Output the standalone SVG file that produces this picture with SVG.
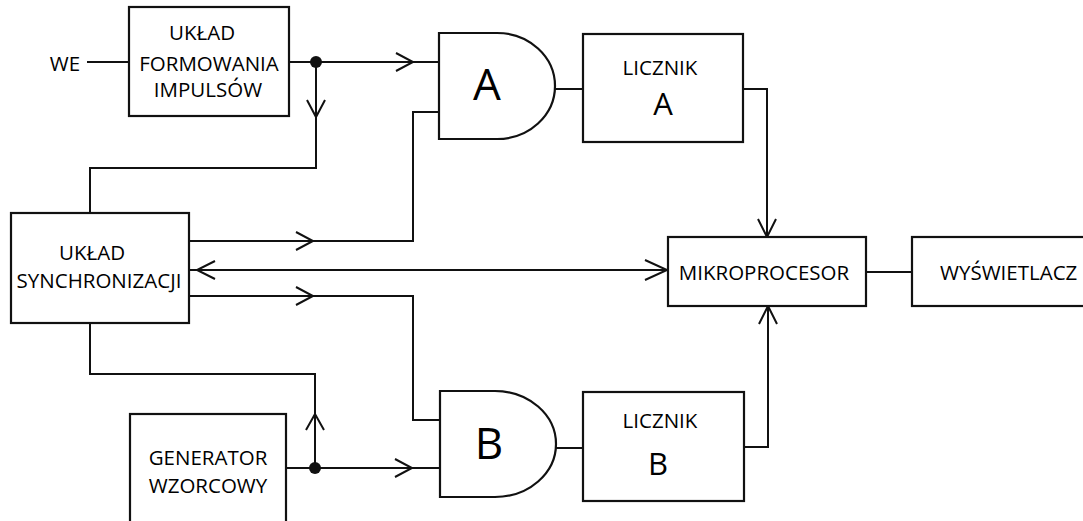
<svg xmlns="http://www.w3.org/2000/svg" width="1083" height="521" viewBox="0 0 1083 521">
<style>
text{font-family:"Open Sans","Liberation Sans",sans-serif;fill:#000;font-size:20.5px;text-anchor:middle}
.box{fill:#fff;stroke:#111;stroke-width:2.2}
.w{stroke:#111;stroke-width:2;fill:none}
.ah{stroke:#111;stroke-width:2;fill:none;stroke-linejoin:miter}
.dot{fill:#111}
.big{font-size:31px}
.gate{font-size:44px}
</style>
<rect width="1083" height="521" fill="#fff"/>
<g id="connectors">
<path class="w" d="M87,62 H129"/>
<path class="w" d="M289,62 H439"/>
<path class="w" d="M316,62 V168 H90 V213"/>
<path class="w" d="M189,241 H413 V112 H439"/>
<path class="w" d="M189,270 H668"/>
<path class="w" d="M189,296 H413 V420 H440"/>
<path class="w" d="M90,323 V374 H315 V468"/>
<path class="w" d="M286,468 H440"/>
<path class="w" d="M555,89 H583"/>
<path class="w" d="M743,89 H767 V237"/>
<path class="w" d="M556,448 H583"/>
<path class="w" d="M744,447 H768 V306"/>
<path class="w" d="M866,272 H912"/>
<polyline class="ah" points="396,53 413,62 396,71"/>
<polyline class="ah" points="307,100 316,117 325,100"/>
<polyline class="ah" points="296,232 313,241 296,250"/>
<polyline class="ah" points="215,261 197,270 215,279"/>
<polyline class="ah" points="645,260 667,270 645,280"/>
<polyline class="ah" points="296,287 313,296 296,305"/>
<polyline class="ah" points="758,219 767,237 776,219"/>
<polyline class="ah" points="759,324 768,306 777,324"/>
<polyline class="ah" points="306,430 315,414 324,430"/>
<polyline class="ah" points="395,459 412,468 395,477"/>
<circle class="dot" cx="316" cy="62" r="6"/>
<circle class="dot" cx="315" cy="468" r="6"/>
</g>
<g id="we"><text x="65" y="71">WE</text></g>
<g id="formowanie">
<rect class="box" x="129" y="7" width="160" height="109"/>
<text x="202" y="40">UKŁAD</text>
<text x="209" y="71">FORMOWANIA</text>
<text x="208" y="97">IMPULSÓW</text>
</g>
<g id="gateA">
<path class="box" d="M439,33 H497 A58,53 0 0 1 497,139 H439 Z"/>
<text class="gate" x="487" y="100">A</text>
</g>
<g id="licznikA">
<rect class="box" x="583" y="34" width="160" height="108"/>
<text x="660" y="75">LICZNIK</text>
<text class="big" x="663" y="115">A</text>
</g>
<g id="synchronizacja">
<rect class="box" x="11" y="213" width="178" height="110"/>
<text x="92" y="260">UKŁAD</text>
<text x="99" y="288">SYNCHRONIZACJI</text>
</g>
<g id="mikroprocesor">
<rect class="box" x="668" y="237" width="198" height="69"/>
<text x="764" y="280">MIKROPROCESOR</text>
</g>
<g id="wyswietlacz">
<rect class="box" x="912" y="237" width="200" height="69"/>
<text x="940" y="280" style="text-anchor:start">WYŚWIETLACZ</text>
</g>
<g id="gateB">
<path class="box" d="M440,391 H495 A61,53 0 0 1 495,497 H440 Z"/>
<text class="gate" x="489" y="459">B</text>
</g>
<g id="licznikB">
<rect class="box" x="583" y="392" width="161" height="109"/>
<text x="660" y="428">LICZNIK</text>
<text class="big" x="658" y="475">B</text>
</g>
<g id="generator">
<rect class="box" x="130" y="414" width="156" height="120"/>
<text x="208" y="465">GENERATOR</text>
<text x="208" y="493">WZORCOWY</text>
</g>
</svg>
